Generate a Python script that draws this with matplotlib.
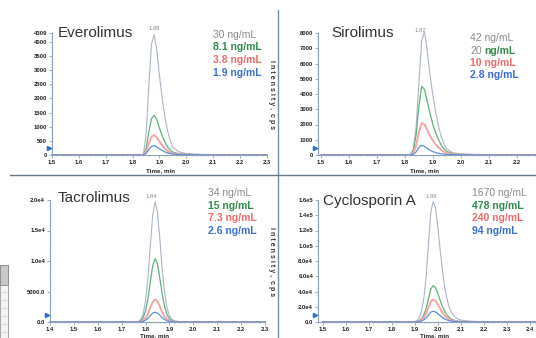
import matplotlib
matplotlib.use("Agg")
import matplotlib.pyplot as plt
from matplotlib.patches import Rectangle
from matplotlib.lines import Line2D
from matplotlib.ticker import AutoMinorLocator

plt.rcParams['font.family'] = ['Liberation Sans', 'DejaVu Sans']

# ---- data (time in min, intensity in cps) ----
evero_time = [1.50, 1.82, 1.83, 1.84, 1.85, 1.86, 1.87, 1.88, 1.89, 1.90,
              1.91, 1.92, 1.93, 1.94, 1.95, 1.97, 2.00, 2.05, 2.10, 2.30]
evero_30 = [0, 0, 0, 30, 700, 2400, 3900, 4250, 3700, 2800,
            2000, 1350, 850, 500, 280, 120, 50, 20, 0, 0]
evero_8 = [0, 0, 0, 10, 230, 800, 1280, 1400, 1250, 950,
           680, 460, 290, 170, 100, 50, 20, 5, 0, 0]
evero_3 = [0, 0, 0, 5, 120, 400, 640, 700, 620, 470,
           340, 230, 150, 90, 55, 30, 15, 5, 0, 0]
evero_1 = [0, 0, 0, 3, 55, 190, 300, 330, 290, 220,
           160, 110, 75, 50, 35, 20, 10, 5, 0, 0]

siro_time = [1.50, 1.81, 1.82, 1.83, 1.84, 1.85, 1.86, 1.87, 1.88, 1.89, 1.90,
             1.91, 1.92, 1.93, 1.94, 1.95, 1.97, 2.00, 2.05, 2.10, 2.30]
siro_42 = [0, 0, 50, 400, 1800, 4700, 7500, 8100, 6800, 5200, 3900,
           2800, 1900, 1200, 700, 400, 150, 60, 30, 0, 0]
siro_20 = [0, 0, 30, 250, 1300, 3200, 4500, 4300, 3500, 2700, 2000,
           1450, 1000, 650, 400, 230, 90, 40, 20, 0, 0]
siro_10 = [0, 0, 15, 120, 600, 1500, 2100, 2000, 1650, 1250, 950,
           700, 480, 320, 200, 120, 50, 20, 10, 0, 0]
siro_2 = [0, 0, 5, 40, 200, 500, 650, 560, 420, 300, 220,
          160, 110, 80, 55, 35, 20, 10, 5, 0, 0]

tacro_time = [1.40, 1.76, 1.77, 1.78, 1.79, 1.80, 1.81, 1.82, 1.83, 1.84, 1.85,
              1.86, 1.87, 1.88, 1.89, 1.90, 1.91, 1.92, 1.94, 1.97, 2.30]
tacro_34 = [0, 0, 100, 400, 1300, 3500, 7200, 12500, 17500, 19700, 18000,
            13500, 8500, 4700, 2300, 1000, 450, 200, 60, 0, 0]
tacro_15 = [0, 0, 50, 200, 700, 1850, 3800, 6600, 9200, 10400, 9500,
            7100, 4500, 2500, 1200, 530, 240, 100, 30, 0, 0]
tacro_7 = [0, 0, 20, 80, 250, 650, 1350, 2350, 3300, 3700, 3400,
           2550, 1600, 900, 430, 190, 85, 40, 10, 0, 0]
tacro_2 = [0, 0, 10, 35, 110, 290, 600, 1050, 1450, 1600, 1450,
           1100, 700, 400, 200, 90, 40, 20, 5, 0, 0]

cyclo_time = [1.50, 1.89, 1.90, 1.91, 1.92, 1.93, 1.94, 1.95, 1.96, 1.97, 1.98, 1.99,
              2.00, 2.01, 2.02, 2.03, 2.04, 2.05, 2.06, 2.08, 2.10, 2.15, 2.20, 2.50]
cyclo_1670 = [0, 0, 500, 2000, 6000, 15000, 32000, 62000, 105000, 145000, 158000, 150000,
              125000, 95000, 68000, 46000, 30000, 19000, 12000, 5000, 2500, 800, 200, 0]
cyclo_478 = [0, 0, 150, 600, 1800, 4500, 9600, 18600, 31500, 43500, 47500, 45000,
             37500, 28500, 20400, 13800, 9000, 5700, 3600, 1500, 750, 240, 60, 0]
cyclo_240 = [0, 0, 90, 370, 1100, 2800, 5900, 11500, 19400, 26800, 29200, 27700,
             23100, 17600, 12600, 8500, 5500, 3500, 2200, 900, 460, 150, 40, 0]
cyclo_94 = [0, 0, 45, 180, 550, 1400, 2900, 5600, 9400, 13000, 14000, 13200,
            11000, 8300, 5900, 4000, 2600, 1700, 1050, 450, 220, 70, 20, 0]

evero_conc = ["30 ng/mL", "8.1 ng/mL", "3.8 ng/mL", "1.9 ng/mL"]
siro_conc = ["42 ng/mL", "20 ng/mL", "10 ng/mL", "2.8 ng/mL"]
tacro_conc = ["34 ng/mL", "15 ng/mL", "7.3 ng/mL", "2.6 ng/mL"]
cyclo_conc = ["1670 ng/mL", "478 ng/mL", "240 ng/mL", "94 ng/mL"]

evero_yticks = [0, 500, 1000, 1500, 2000, 2500, 3000, 3500, 4000, 4309]
evero_ylabels = ["0", "500", "1000", "1500", "2000", "2500", "3000", "3500", "4000", "4309"]
siro_yticks = [0, 1000, 2000, 3000, 4000, 5000, 6000, 7000, 8000]
siro_ylabels = ["0", "1000", "2000", "3000", "4000", "5000", "6000", "7000", "8000"]
tacro_yticks = [0, 5000, 10000, 15000, 20000]
tacro_ylabels = ["0.0", "5000.0", "1.0e4", "1.5e4", "2.0e4"]
cyclo_yticks = [0, 20000, 40000, 60000, 80000, 100000, 120000, 140000, 160000]
cyclo_ylabels = ["0.0", "2.0e4", "4.0e4", "6.0e4", "8.0e4", "1.0e5", "1.2e5", "1.4e5", "1.6e5"]

LINE_COLORS = ["#aab6c4", "#62b07c", "#f5a5a5", "#5b8fe0"]
TEXT_COLORS = ["#8a8a8a", "#2f8a4c", "#f06a6a", "#3a6fd0"]
SPINE = "#8aa2bb"

W, H = 536, 338
fig = plt.figure(figsize=(W / 100, H / 100), dpi=100)


def px_axes(left, top, width, height):
    # rectangle given in pixel coordinates measured from the top-left corner
    return fig.add_axes([left / W, 1 - (top + height) / H, width / W, height / H])


def panel(rect, t, series, xlim, ylim, yticks, ylabels, xticks):
    ax = px_axes(*rect)
    for vals, c, lw in zip(series, LINE_COLORS, [0.8, 0.9, 1.4, 0.9]):
        ax.plot(t, vals, color=c, lw=lw, clip_on=False)
    ax.set_xlim(*xlim)
    ax.set_ylim(*ylim)
    ax.set_xticks(xticks)
    ax.set_xticklabels([f"{v:.1f}" for v in xticks])
    ax.set_yticks(yticks)
    ax.set_yticklabels(ylabels)
    ax.xaxis.set_minor_locator(AutoMinorLocator(5))
    ax.yaxis.set_minor_locator(AutoMinorLocator(5))
    for s in ["top", "right"]:
        ax.spines[s].set_visible(False)
    for s in ["left", "bottom"]:
        ax.spines[s].set_color(SPINE)
        ax.spines[s].set_linewidth(0.8)
    ax.tick_params(which="major", length=2, width=0.6, color=SPINE, pad=1.5,
                   labelsize=4.2, labelcolor="#222222")
    ax.tick_params(which="minor", length=1, width=0.4, color=SPINE)
    for lab in ax.get_xticklabels() + ax.get_yticklabels():
        lab.set_fontweight("bold")
    ax.patch.set_alpha(0)
    # little blue baseline marker left of the y axis
    ax.plot([-0.012], [0.06], marker=">", ms=3, color="#2f6fd0",
            transform=ax.transAxes, clip_on=False)
    return ax


def legend_text(x, y, labels):
    for i, (lab, c) in enumerate(zip(labels, TEXT_COLORS)):
        fig.text(x / W, 1 - (y + i * 12.5) / H, lab, color=c, fontsize=7.5,
                 fontweight="normal" if i == 0 else "bold", va="center")


# top-left: Everolimus
panel((52, 33, 215, 122), evero_time, [evero_30, evero_8, evero_3, evero_1],
      (1.5, 2.3), (0, 4309), evero_yticks, evero_ylabels,
      [1.5, 1.6, 1.7, 1.8, 1.9, 2.0, 2.1, 2.2, 2.3])
# top-right: Sirolimus
panel((318, 33, 227, 122), siro_time, [siro_42, siro_20, siro_10, siro_2],
      (1.49, 2.3), (0, 8000), siro_yticks, siro_ylabels,
      [1.5, 1.6, 1.7, 1.8, 1.9, 2.0, 2.1, 2.2])
# bottom-left: Tacrolimus
panel((50, 200, 215, 122), tacro_time, [tacro_34, tacro_15, tacro_7, tacro_2],
      (1.4, 2.3), (0, 20000), tacro_yticks, tacro_ylabels,
      [1.4, 1.5, 1.6, 1.7, 1.8, 1.9, 2.0, 2.1, 2.2, 2.3])
# bottom-right: Cyclosporin A
panel((318, 200, 235, 122), cyclo_time, [cyclo_1670, cyclo_478, cyclo_240, cyclo_94],
      (1.48, 2.5), (0, 160000), cyclo_yticks, cyclo_ylabels,
      [1.5, 1.6, 1.7, 1.8, 1.9, 2.0, 2.1, 2.2, 2.3, 2.4])

# compound names
for name, x, y in [("Everolimus", 58, 33), ("Sirolimus", 331, 33),
                   ("Tacrolimus", 58, 198), ("Cyclosporin A", 323, 201)]:
    fig.text(x / W, 1 - y / H, name, fontsize=11, color="#333333", va="center")

legend_text(213, 35, evero_conc)
legend_text(208, 193, tacro_conc)
legend_text(472, 193, cyclo_conc)

# Sirolimus legend: the "20" of the second entry is printed in grey
for i, (lab, c) in enumerate(zip(siro_conc, TEXT_COLORS)):
    y = 1 - (38 + i * 12.5) / H
    if i == 1:
        num, unit = lab.split(" ", 1)
        fig.text(470 / W, y, num, color=TEXT_COLORS[0], fontsize=7.5, va="center")
        fig.text(484 / W, y, unit, color=c, fontsize=7.5, fontweight="bold", va="center")
    else:
        fig.text(470 / W, y, lab, color=c, fontsize=7.5,
                 fontweight="normal" if i == 0 else "bold", va="center")

# peak retention-time labels
for lab, x, y in [("1.88", 154, 29), ("1.87", 420, 30), ("1.84", 151, 196), ("1.98", 431, 196)]:
    fig.text(x / W, 1 - y / H, lab, fontsize=4.2, color="#8a8a8a", ha="center", va="center")

# axis titles
for x, y in [(160, 171), (425, 171), (155, 336), (435, 336)]:
    fig.text(x / W, 1 - y / H, "Time, min", fontsize=4.5, fontweight="bold",
             color="#222222", ha="center", va="center")
for y in [95, 262]:
    fig.text(272 / W, 1 - y / H, "I n t e n s i t y ,  c p s", fontsize=5,
             fontweight="bold", color="#333333", rotation=-90, ha="center", va="center")

# window dividers
fig.add_artist(Line2D([278 / W, 278 / W], [0, 1 - 10 / H], color="#6f8fb0", lw=1.0))
fig.add_artist(Line2D([10 / W, 1], [1 - 175 / H, 1 - 175 / H], color="#6a7888", lw=1.0))

# edge of a neighbouring table window at the far left
fig.add_artist(Rectangle((0, 0), 8 / W, 73 / H, facecolor="#f4f4f4", edgecolor="#9a9a9a", lw=0.6))
fig.add_artist(Rectangle((0, 1 - 285 / H), 8 / W, 20 / H, facecolor="#c8c8c8", edgecolor="#8a8a8a", lw=0.6))
for yy in range(292, 338, 8):
    fig.add_artist(Line2D([0, 8 / W], [1 - yy / H, 1 - yy / H], color="#c0c0c0", lw=0.4))

fig.savefig("out.png", dpi=100)
